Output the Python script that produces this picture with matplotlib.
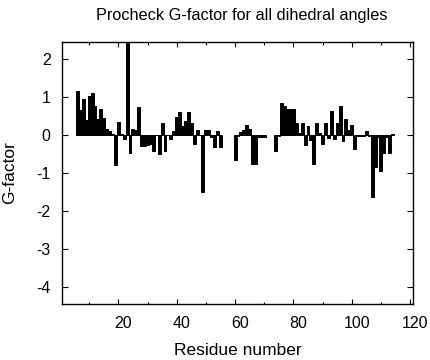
import matplotlib
matplotlib.use("Agg")
import matplotlib.pyplot as plt
import matplotlib.transforms as mtransforms
from matplotlib.ticker import MultipleLocator

# residue numbers (gaps at 56-59 and 71-73)
residues = list(range(6, 56)) + list(range(60, 71)) + list(range(74, 115))

gfactor = [
    1.17, 0.67, 0.95, 0.40, 1.02, 1.12, 0.78, 0.43, 0.70, 0.45,   # 6-15
    0.16, 0.12, 0.02, -0.79, 0.35, 0.04, -0.10, 2.90, -0.46, 0.16,  # 16-25
    0.14, 0.75, -0.28, -0.28, -0.27, -0.24, -0.42, 0.00, -0.49, 0.33,  # 26-35
    -0.42, 0.00, -0.11, 0.10, 0.49, 0.60, 0.25, 0.38, 0.60, 0.33,  # 36-45
    -0.23, 0.14, 0.00, -1.50, 0.14, 0.14, -0.05, -0.30, 0.10, -0.32,  # 46-55
    -0.65, -0.03, 0.09, 0.14, 0.26, 0.16, -0.75, -0.75, -0.05, -0.05,  # 60-69
    -0.05,  # 70
    -0.42, -0.03, 0.84, 0.77, 0.68, 0.68, 0.68, 0.32, 0.05, 0.33,  # 74-83
    -0.26, 0.23, -0.12, -0.75, 0.32, 0.07, -0.23, 0.33, -0.07, 0.63,  # 84-93
    -0.10, 0.32, 0.77, -0.15, 0.42, 0.14, 0.26, -0.35, -0.03, -0.03,  # 94-103
    -0.03, 0.12, -0.02, -1.63, -0.84, -0.05, -0.95, -0.48, -0.04, -0.46,  # 104-113
    0.04,  # 114
]

xticks = [20, 40, 60, 80, 100, 120]
yticks = [-4, -3, -2, -1, 0, 1, 2]

plt.rcParams["font.family"] = ["Liberation Sans", "DejaVu Sans"]
plt.rcParams["font.size"] = 11.5
plt.rcParams["axes.unicode_minus"] = False

fig = plt.figure(figsize=(4.31, 3.6), dpi=100)
ax = fig.add_axes([0.1446, 0.1556, 0.8144, 0.7286])

ax.bar(residues, gfactor, width=1.0, color="black", edgecolor="black", linewidth=0.7)

ax.set_xlim(0.8, 121.1)
ax.set_ylim(-4.44, 2.46)
ax.set_xticks(xticks)
ax.xaxis.set_minor_locator(MultipleLocator(10))
ax.set_yticks(yticks)

ax.tick_params(which="both", direction="in", top=True, right=True, width=0.8)
ax.tick_params(axis="x", which="major", length=3.6, pad=9)
ax.tick_params(axis="x", which="minor", length=1.8)
ax.tick_params(axis="y", which="major", length=4.3, pad=8.5)
for s in ax.spines.values():
    s.set_linewidth(1.0)

# gnuplot-like shift of the x tick labels
offset = mtransforms.ScaledTranslation(5 / 100, 0, fig.dpi_scale_trans)
for lab in ax.get_xticklabels():
    lab.set_transform(lab.get_transform() + offset)

ax.set_title("Procheck G-factor for all dihedral angles", fontsize=11.7,
             y=1.098, va="center", pad=0)
ax.title.set_x(0.5105)
ax.set_xlabel("Residue number", fontsize=12.5, va="center")
ax.xaxis.set_label_coords(0.5, -0.179)
ax.set_ylabel("G-factor", fontsize=12.5, va="center")
ax.yaxis.set_label_coords(-0.15, 0.5)

fig.savefig("out.png", dpi=100)
